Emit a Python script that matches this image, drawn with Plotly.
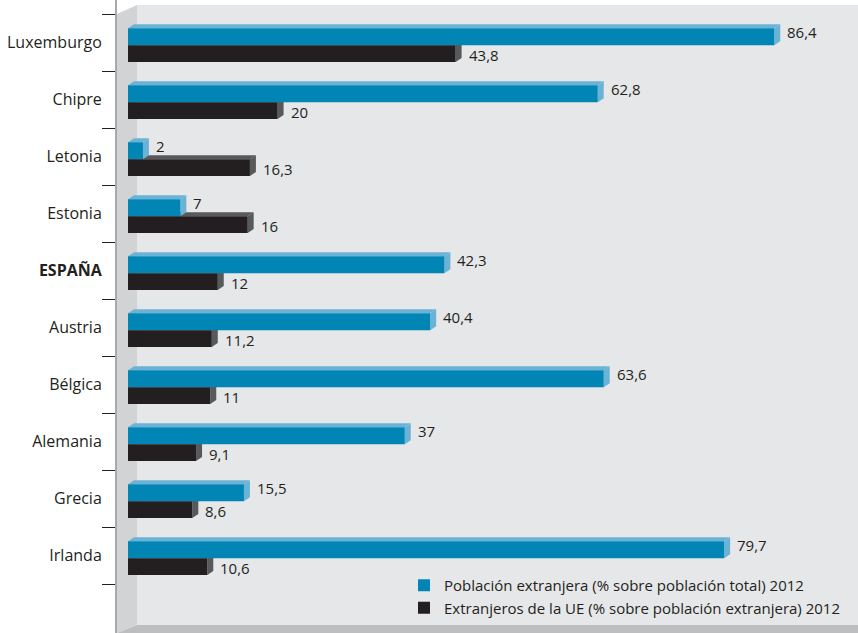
import plotly.graph_objects as go

countries = ["Luxemburgo", "Chipre", "Letonia", "Estonia", "<b>ESPAÑA</b>",
             "Austria", "Bélgica", "Alemania", "Grecia", "Irlanda"]
pob_extranjera = [86.4, 62.8, 2, 7, 42.3, 40.4, 63.6, 37, 15.5, 79.7]
extranjeros_ue = [43.8, 20, 16.3, 16, 12, 11.2, 11, 9.1, 8.6, 10.6]
series_names = ["Población extranjera (% sobre población total) 2012",
                "Extranjeros de la UE (% sobre población extranjera) 2012"]

W, H = 858, 633
L = 117
FONT = "Open Sans"
BLUE, BLUE_LT = "#0085b5", "#6bb3d6"
BLACK, BLACK_SIDE = "#231f20", "#58595b"

pos = list(range(len(countries)))
B_OFF, B_W = -0.25, 0.30
K_OFF, K_W = 0.05, 0.29
DX, DY = 0.8, 0.07


def px_x(p):
    return (p - L) / (W - L)


def px_y(p):
    return 1 - p / H


fig = go.Figure()

fig.add_trace(go.Bar(y=pos, x=pob_extranjera, orientation="h", base=0,
                     offset=B_OFF, width=B_W, marker=dict(color=BLUE, line=dict(width=0)),
                     name=series_names[0], hoverinfo="x"))
fig.add_trace(go.Bar(y=pos, x=extranjeros_ue, orientation="h", base=0,
                     offset=K_OFF, width=K_W, marker=dict(color=BLACK, line=dict(width=0)),
                     name=series_names[1], hoverinfo="x"))

shapes = []
# background walls (decoration)
shapes.append(dict(type="rect", xref="paper", yref="paper", x0=px_x(137), x1=px_x(W),
                   y0=px_y(625), y1=px_y(5), fillcolor="#e6e7e8", line=dict(width=0), layer="below"))
shapes.append(dict(type="path", xref="paper", yref="paper",
                   path=f"M{px_x(117)},{px_y(14)} L{px_x(137)},{px_y(5)} L{px_x(137)},{px_y(625)} L{px_x(117)},{px_y(633)} Z",
                   fillcolor="#d1d3d4", line=dict(width=0), layer="below"))
shapes.append(dict(type="path", xref="paper", yref="paper",
                   path=f"M{px_x(117)},{px_y(633)} L{px_x(137)},{px_y(625)} L{px_x(W)},{px_y(625)} L{px_x(W)},{px_y(633)} Z",
                   fillcolor="#bcbec0", line=dict(width=0), layer="below"))


def faces(yc, off, w, v, top_col, side_col):
    top = yc + off
    bot = yc + off + w
    out = []
    out.append(dict(type="path", xref="x", yref="y",
                    path=f"M0,{top} L{DX},{top - DY} L{v + DX},{top - DY} L{v},{top} Z",
                    fillcolor=top_col, line=dict(width=0), layer="below"))
    out.append(dict(type="path", xref="x", yref="y",
                    path=f"M{v},{top} L{v + DX},{top - DY} L{v + DX},{bot - DY} L{v},{bot} Z",
                    fillcolor=side_col, line=dict(width=0), layer="below"))
    return out


def fmt(v):
    return f"{v:g}".replace(".", ",")


annotations = []
for i, (b, k) in enumerate(zip(pob_extranjera, extranjeros_ue)):
    shapes += faces(i, K_OFF, K_W, k, BLACK_SIDE, BLACK_SIDE)
    shapes += faces(i, B_OFF, B_W, b, BLUE_LT, BLUE_LT)
    annotations.append(dict(x=b + DX, y=i + B_OFF + B_W / 2, text=fmt(b), showarrow=False,
                            xanchor="left", xshift=5, yshift=5,
                            font=dict(family=FONT, size=15, color=BLACK)))
    annotations.append(dict(x=k + DX, y=i + K_OFF + K_W / 2, text=fmt(k), showarrow=False,
                            xanchor="left", xshift=5, yshift=-1,
                            font=dict(family=FONT, size=15, color=BLACK)))

PXU = 7.48
fig.update_layout(
    width=W, height=H,
    margin=dict(l=L, r=0, t=0, b=0),
    paper_bgcolor="white", plot_bgcolor="rgba(0,0,0,0)",
    barmode="overlay",
    shapes=shapes, annotations=annotations,
    font=dict(family=FONT, size=15, color=BLACK),
    legend=dict(x=px_x(404), y=px_y(569), xanchor="left", yanchor="top",
                bgcolor="rgba(0,0,0,0)", font=dict(family=FONT, size=15, color=BLACK),
                itemwidth=30, tracegroupgap=0),
    showlegend=True,
    xaxis=dict(range=[-11 / PXU, (W - 128) / PXU], visible=False, fixedrange=True),
    yaxis=dict(range=[(H - 14) / 57 - 0.5, -14 / 57 - 0.5], tickmode="array",
               tickvals=pos, ticktext=countries, ticks="", showgrid=False, zeroline=False,
               showline=True, linecolor="#a7a9ac", linewidth=2, fixedrange=True,
               tickfont=dict(family=FONT, size=16, color=BLACK), ticklabelstandoff=10,
               automargin=False,
               minor=dict(tickmode="array", tickvals=[p - 0.5 for p in pos] + [len(pos) - 0.5],
                          ticks="outside", ticklen=13, tickwidth=1, tickcolor="#231f20",
                          showgrid=False)),
)

fig.write_html("out.html", config={"displayModeBar": False},
               post_script="document.body.style.margin='0';")
